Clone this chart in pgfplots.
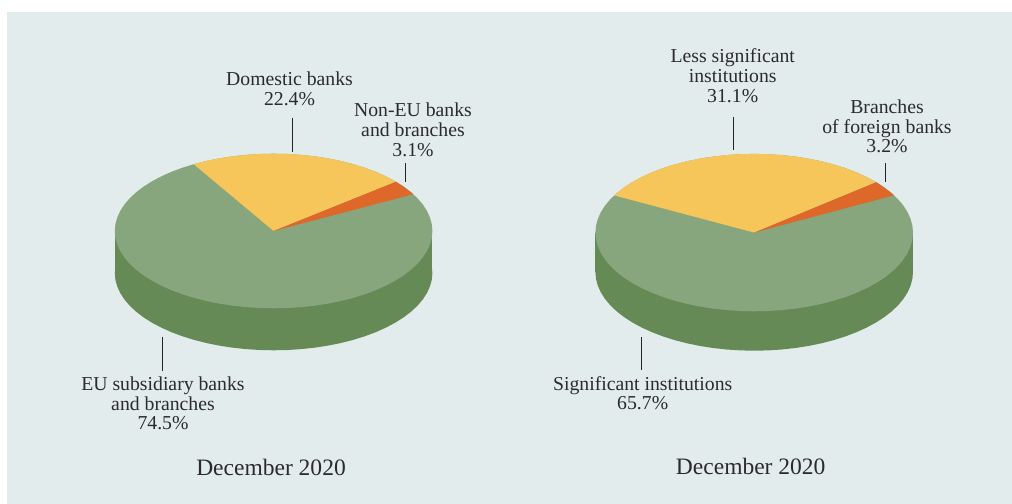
\documentclass[border=0pt]{standalone}
\usepackage{pgfplots}
\usepackage{pgfplotstable}
\usepackage{fontspec}
\pgfplotsset{compat=1.18}
\setmainfont{Liberation Serif}

\definecolor{panel}{HTML}{E3ECED}
\definecolor{pietop}{HTML}{88A67E}
\definecolor{pieside}{HTML}{668A55}
\definecolor{pieyellow}{HTML}{F6C65B}
\definecolor{pieorange}{HTML}{DD682A}
\definecolor{labeltext}{HTML}{2B2B2B}

% Outline of a pie: unit circle in 5 degree steps, scaled by each axis into an ellipse
\pgfplotstableread{
x y
1 0
.9962 .0872
.9848 .1736
.9659 .2588
.9397 .3420
.9063 .4226
.8660 .5000
.8192 .5736
.7660 .6428
.7071 .7071
.6428 .7660
.5736 .8192
.5000 .8660
.4226 .9063
.3420 .9397
.2588 .9659
.1736 .9848
.0872 .9962
0 1
-.0872 .9962
-.1736 .9848
-.2588 .9659
-.3420 .9397
-.4226 .9063
-.5000 .8660
-.5736 .8192
-.6428 .7660
-.7071 .7071
-.7660 .6428
-.8192 .5736
-.8660 .5000
-.9063 .4226
-.9397 .3420
-.9659 .2588
-.9848 .1736
-.9962 .0872
-1 0
-.9962 -.0872
-.9848 -.1736
-.9659 -.2588
-.9397 -.3420
-.9063 -.4226
-.8660 -.5000
-.8192 -.5736
-.7660 -.6428
-.7071 -.7071
-.6428 -.7660
-.5736 -.8192
-.5000 -.8660
-.4226 -.9063
-.3420 -.9397
-.2588 -.9659
-.1736 -.9848
-.0872 -.9962
0 -1
.0872 -.9962
.1736 -.9848
.2588 -.9659
.3420 -.9397
.4226 -.9063
.5000 -.8660
.5736 -.8192
.6428 -.7660
.7071 -.7071
.7660 -.6428
.8192 -.5736
.8660 -.5000
.9063 -.4226
.9397 -.3420
.9659 -.2588
.9848 -.1736
.9962 -.0872
}\unitcircle

\pgfplotsset{
  pieaxis/.style={
    hide axis, scale only axis, clip=false,
    xmin=-1, xmax=1, ymin=-1, ymax=1,
    anchor=center,
  },
  wedge/.style={fill=#1, draw=none, forget plot},
  leader/.style={draw=black!85, line width=1bp, forget plot},
}

\newcommand{\lbl}[3]{\node[anchor=base, text=labeltext, font=\fontsize{#3}{#3}\selectfont, inner sep=0pt] at (axis cs:#1) {#2};}

\begin{document}
\begin{tikzpicture}
\path[use as bounding box] (0bp,0bp) rectangle (1012bp,504bp);

% Panel, leader lines and captions, in a 1012 by 504 frame
\begin{axis}[
  at={(0bp,0bp)}, anchor=south west, hide axis, scale only axis,
  width=1012bp, height=504bp, xmin=0, xmax=1012, ymin=0, ymax=504,
  y dir=reverse, clip=false,
]
\addplot[wedge=panel] coordinates {(7,12) (1012,12) (1012,504) (7,504)} -- cycle;
\addplot[leader] coordinates {(292,118) (292,152)};
\addplot[leader] coordinates {(405.5,163) (405.5,182)};
\addplot[leader] coordinates {(162,337) (162,371)};
\addplot[leader] coordinates {(733.7,117) (733.7,150)};
\addplot[leader] coordinates {(885,163) (885,182)};
\addplot[leader] coordinates {(641.3,337) (641.3,370)};
\lbl{289.5,86}{Domestic banks}{19.8}
\lbl{289.5,105}{22.4\%}{19.8}
\lbl{413,116}{Non-EU banks}{19.8}
\lbl{413,136}{and branches}{19.8}
\lbl{413,156}{3.1\%}{19.8}
\lbl{163,390}{EU subsidiary banks}{19.8}
\lbl{163,410}{and branches}{19.8}
\lbl{163,429}{74.5\%}{19.8}
\lbl{271,475}{December 2020}{23.6}
\lbl{732.7,62.7}{Less significant}{19.8}
\lbl{732.7,82.7}{institutions}{19.8}
\lbl{732.7,102.3}{31.1\%}{19.8}
\lbl{887,113}{Branches}{19.8}
\lbl{887,133}{of foreign banks}{19.8}
\lbl{887,152.7}{3.2\%}{19.8}
\lbl{642.7,390}{Significant institutions}{19.8}
\lbl{642.7,409.7}{65.7\%}{19.8}
\lbl{750.7,474}{December 2020}{23.6}
\end{axis}

% Banks by ownership: 22.4, 3.1 and 74.5 per cent
\begin{axis}[pieaxis, at={(273.6bp,273bp)}, width=317.6bp, height=154.6bp]
\addplot[wedge=pieside, yshift=-42bp] table[x=x, y=y] {\unitcircle} -- cycle;
\addplot[wedge=pieside] coordinates {(-1,0) (1,0) (1,-.5433) (-1,-.5433)} -- cycle;
\addplot[wedge=pietop] table[x=x, y=y] {\unitcircle} -- cycle;
\addplot[wedge=pieyellow] coordinates {
  (0,0) (-.5030,.8643) (-.4226,.9063) (-.3420,.9397) (-.2588,.9659) (-.1736,.9848)
  (-.0872,.9962) (0,1) (.0872,.9962) (.1736,.9848) (.2588,.9659) (.3420,.9397)
  (.4226,.9063) (.5000,.8660) (.5736,.8192) (.6428,.7660) (.7071,.7071) (.7707,.6372)
} -- cycle;
\addplot[wedge=pieorange] coordinates {
  (0,0) (.7707,.6372) (.8192,.5736) (.8660,.5000) (.8796,.4756)
} -- cycle;
\end{axis}

% Banks by supervisory status: 31.1, 3.2 and 65.7 per cent
\begin{axis}[pieaxis, at={(754.2bp,271.4bp)}, width=317.6bp, height=157.4bp]
\addplot[wedge=pieside, yshift=-39.4bp] table[x=x, y=y] {\unitcircle} -- cycle;
\addplot[wedge=pieside] coordinates {(-1,0) (1,0) (1,-.5006) (-1,-.5006)} -- cycle;
\addplot[wedge=pietop] table[x=x, y=y] {\unitcircle} -- cycle;
\addplot[wedge=pieyellow] coordinates {
  (0,0) (-.8813,.4726) (-.8660,.5000) (-.8192,.5736) (-.7660,.6428) (-.7071,.7071)
  (-.6428,.7660) (-.5736,.8192) (-.5000,.8660) (-.4226,.9063) (-.3420,.9397)
  (-.2588,.9659) (-.1736,.9848) (-.0872,.9962) (0,1) (.0872,.9962) (.1736,.9848)
  (.2588,.9659) (.3420,.9397) (.4226,.9063) (.5000,.8660) (.5736,.8192) (.6428,.7660)
  (.7071,.7071) (.7683,.6401)
} -- cycle;
\addplot[wedge=pieorange] coordinates {
  (0,0) (.7683,.6401) (.8192,.5736) (.8660,.5000) (.8805,.4741)
} -- cycle;
\end{axis}
\end{tikzpicture}
\end{document}
